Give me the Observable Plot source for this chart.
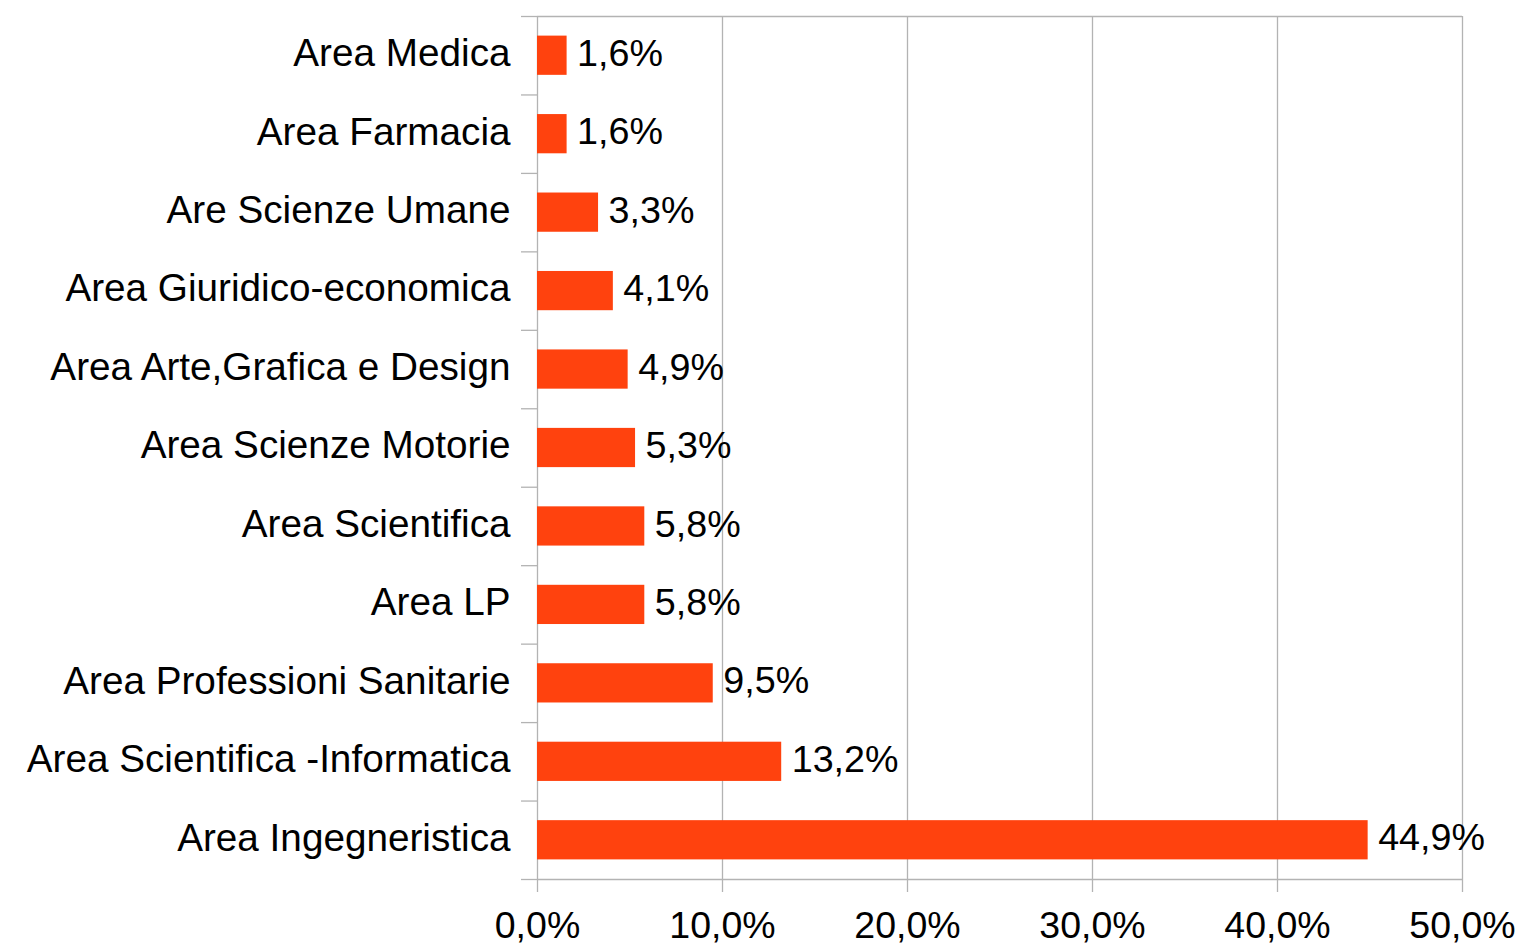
<!DOCTYPE html>
<html>
<head>
<meta charset="utf-8">
<script src="https://cdn.jsdelivr.net/npm/d3@7"></script>
<script src="https://cdn.jsdelivr.net/npm/@observablehq/plot@0.6"></script>
<style>
  html, body { margin: 0; padding: 0; background: #fff; }
  #chart svg { display: block; }
</style>
</head>
<body>
<div id="chart"></div>
<script>
const categories = [
  "Area Medica",
  "Area Farmacia",
  "Are Scienze Umane",
  "Area Giuridico-economica",
  "Area Arte,Grafica e Design",
  "Area Scienze Motorie",
  "Area Scientifica",
  "Area LP",
  "Area Professioni Sanitarie",
  "Area Scientifica -Informatica",
  "Area Ingegneristica"
];
const values = [1.6, 1.6, 3.3, 4.1, 4.9, 5.3, 5.8, 5.8, 9.5, 13.2, 44.9];
const xTicks = [0, 10, 20, 30, 40, 50];

const data = categories.map((c, i) => ({category: c, value: values[i], index: i}));
const boundaries = d3.range(categories.length + 1);
const centers = categories.map((c, i) => i + 0.5);

const fmt = v => v.toFixed(1).replace(".", ",") + "%";
const grid = "#b3b3b3";
const font = "Liberation Sans, Arial, sans-serif";

const chart = Plot.plot({
  width: 1521,
  height: 946,
  marginLeft: 537,
  marginRight: 59,
  marginTop: 16,
  marginBottom: 67,
  style: {fontFamily: font, background: "#fff", color: "#000"},
  x: {domain: [0, 50], label: null},
  y: {domain: [0, categories.length], reverse: true, label: null},
  marks: [
    Plot.ruleX(xTicks, {y1: 0, y2: categories.length, stroke: grid, strokeWidth: 1.3}),
    Plot.ruleY([0, categories.length], {x1: 0, x2: 50, stroke: grid, strokeWidth: 1.3}),
    Plot.axisY({ticks: boundaries, tickSize: 16, tickFormat: () => "", label: null, stroke: grid, strokeWidth: 1.3}),
    Plot.axisY({ticks: centers, tickSize: 0, tickPadding: 27, fontSize: 38.7, fill: "#000", dy: -2, label: null,
      tickFormat: t => categories[Math.floor(t)]}),
    Plot.axisX({ticks: xTicks, tickSize: 13, tickPadding: 19, fontSize: 37.5, fill: "#000", label: null,
      stroke: grid, strokeWidth: 1.3, tickFormat: fmt}),
    Plot.rectX(data, {x1: 0, x2: "value", y1: d => d.index + 0.25, y2: d => d.index + 0.75, fill: "#ff420e"}),
    Plot.text(data, {x: "value", y: d => d.index + 0.5, text: d => fmt(d.value), dx: 10, dy: -2,
      textAnchor: "start", fontSize: 37.7, fill: "#000"})
  ]
});
document.getElementById("chart").appendChild(chart);
</script>
</body>
</html>
